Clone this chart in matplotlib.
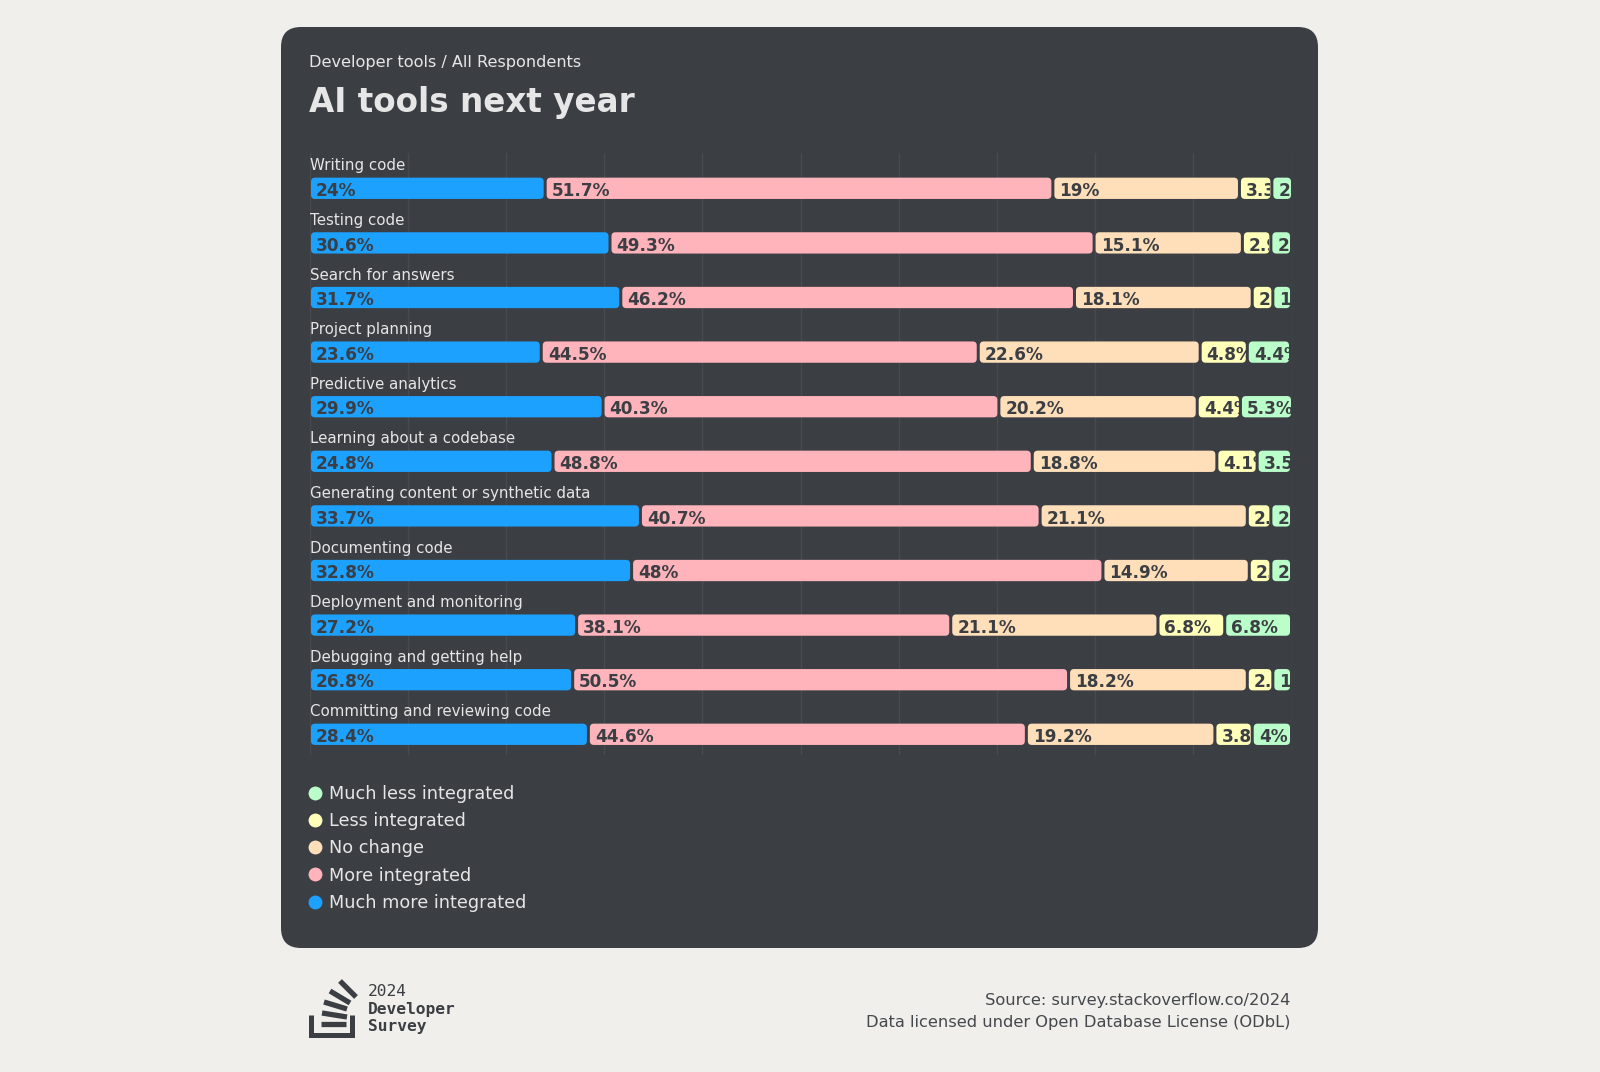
import numpy as np
import matplotlib
matplotlib.use("Agg")
import matplotlib.pyplot as plt
from matplotlib.patches import FancyBboxPatch
from matplotlib.lines import Line2D
from matplotlib.transforms import IdentityTransform, Bbox, TransformedBbox

# data (percent of respondents)
categories = ["Writing code", "Testing code", "Search for answers", "Project planning",
              "Predictive analytics", "Learning about a codebase",
              "Generating content or synthetic data", "Documenting code",
              "Deployment and monitoring", "Debugging and getting help",
              "Committing and reviewing code"]
much_more = [24, 30.6, 31.7, 23.6, 29.9, 24.8, 33.7, 32.8, 27.2, 26.8, 28.4]
more = [51.7, 49.3, 46.2, 44.5, 40.3, 48.8, 40.7, 48, 38.1, 50.5, 44.6]
no_change = [19, 15.1, 18.1, 22.6, 20.2, 18.8, 21.1, 14.9, 21.1, 18.2, 19.2]
less = [3.3, 2.9, 2.1, 4.8, 4.4, 4.1, 2.4, 2.2, 6.8, 2.6, 3.8]
much_less = [2.1, 2.1, 1.9, 4.4, 5.3, 3.5, 2.1, 2.1, 6.8, 1.9, 4]

series = [("Much more integrated", much_more, "#1da1ff"),
          ("More integrated", more, "#ffb3ba"),
          ("No change", no_change, "#ffdfba"),
          ("Less integrated", less, "#ffffba"),
          ("Much less integrated", much_less, "#baffc9")]

W, H = 1600, 1072
PAGE = "#f0efeb"
CARD = "#3b3e43"
LIGHT = "#e6e6e6"
DARK = "#3b3e43"

def fx(x):
    return x / W

def fy(y):
    return 1 - y / H

fig = plt.figure(figsize=(16, 10.72), dpi=100, facecolor=PAGE)

# dark card behind everything
card = FancyBboxPatch((281, H - 948), 1037, 921, boxstyle="round,pad=0,rounding_size=20",
                      transform=IdentityTransform(), facecolor=CARD, edgecolor="none", zorder=0)
fig.add_artist(card)

fig.text(fx(309), fy(66.5), "Developer tools / All Respondents", fontsize=11.6,
         color=LIGHT, va="baseline")
fig.text(fx(309), fy(112), "AI tools next year", fontsize=23.5, fontweight="bold",
         color=LIGHT, va="baseline")

# plot area
left, right, top, bottom = 309.5, 1291.5, 153, 755
ax = fig.add_axes([fx(left), fy(bottom), (right - left) / W, (bottom - top) / H])
ax.set_facecolor("none")
row0, pitch = 188.3, 54.6
ax.set_xlim(0, 100)
ax.set_ylim(10 + (bottom - (row0 + 10 * pitch)) / pitch, -(row0 - top) / pitch)
for s in ax.spines.values():
    s.set_visible(False)
ax.set_xticks(np.arange(0, 101, 10))
ax.set_yticks([])
ax.tick_params(length=0, labelbottom=False)
ax.grid(axis="x", color="#474b51", lw=1)
ax.set_axisbelow(True)

xpx = (right - left) / 100
ypx = pitch
gap = 3 / xpx
bar_h = 21.3 / ypx
rad = 4 / xpx

for i, cat in enumerate(categories):
    ax.text(0.05, i - 18 / ypx, cat, fontsize=10.8, color=LIGHT, va="baseline")
    cum = 0
    for name, vals, col in series:
        v = vals[i]
        x0, x1 = cum + gap / 2, cum + v - gap / 2
        p = FancyBboxPatch((x0, i - bar_h / 2), x1 - x0, bar_h,
                           boxstyle=f"round,pad=0,rounding_size={rad}",
                           mutation_aspect=xpx / ypx, facecolor=col, edgecolor="none", zorder=2)
        ax.add_patch(p)
        t = ax.text(x0 + 5 / xpx, i + 7.7 / ypx, f"{v:g}%", fontsize=12.2,
                    fontweight="bold", color=DARK, va="baseline", zorder=3)
        t.set_clip_on(True)
        t.set_clip_box(TransformedBbox(Bbox([[x0, i - bar_h / 2], [x1, i + bar_h / 2]]),
                                       ax.transData))
        cum += v

# legend, listed bottom segment last
for k, (name, vals, col) in enumerate(series[::-1]):
    yc = 792.7 + k * 27.2
    fig.add_artist(Line2D([fx(315)], [fy(yc)], marker="o", markersize=10, color=col,
                          markeredgecolor="none", transform=fig.transFigure))
    fig.text(fx(329), fy(yc + 6.3), name, fontsize=12.7, color=LIGHT, va="baseline")

# footer
fig.text(fx(1290), fy(1004.5), "Source: survey.stackoverflow.co/2024", fontsize=11.7,
         color="#45484d", ha="right", va="baseline")
fig.text(fx(1290), fy(1026.7), "Data licensed under Open Database License (ODbL)",
         fontsize=11.7, color="#45484d", ha="right", va="baseline")

# logo: tray and stacked sheets
logo = "#3b3e43"
fig.add_artist(Line2D([fx(311), fx(311), fx(352), fx(352)], [fy(1015), fy(1035), fy(1035), fy(1015)],
                      color=logo, lw=3.6, solid_joinstyle="miter", solid_capstyle="butt",
                      transform=fig.transFigure))
sheets = [((321, 1024), (346, 1024)), ((322, 1013), (347, 1017)), ((324, 1002), (347, 1009)),
          ((330, 991), (350, 1003)), ((340, 981), (356, 997))]
for (x0, y0), (x1, y1) in sheets:
    fig.add_artist(Line2D([fx(x0), fx(x1)], [fy(y0), fy(y1)], color=logo, lw=3.8,
                          solid_capstyle="butt", transform=fig.transFigure))
fig.text(fx(368), fy(996), "2024", fontsize=11.7, family="DejaVu Sans Mono", color=logo, va="baseline")
fig.text(fx(368), fy(1014), "Developer", fontsize=11.7, family="DejaVu Sans Mono", fontweight="bold",
         color=logo, va="baseline")
fig.text(fx(368), fy(1031.5), "Survey", fontsize=11.7, family="DejaVu Sans Mono", fontweight="bold",
         color=logo, va="baseline")

fig.savefig("out.png", dpi=100, facecolor=PAGE)
